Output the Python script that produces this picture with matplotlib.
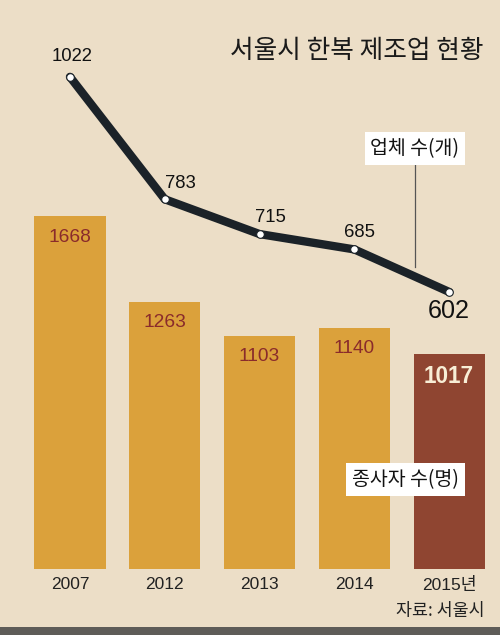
import matplotlib
matplotlib.use("Agg")
import matplotlib.pyplot as plt
from matplotlib.patches import Rectangle
from matplotlib import font_manager

plt.rcParams['font.family'] = ['Noto Sans CJK KR', 'DejaVu Sans']

# ---- data ----
years = ['2007', '2012', '2013', '2014', '2015년']
workers = [1668, 1263, 1103, 1140, 1017]      # 종사자 수(명)
companies = [1022, 783, 715, 685, 602]        # 업체 수(개)
title = '서울시 한복 제조업 현황'
source = '자료: 서울시'
line_label = '업체 수(개)'
bar_label = '종사자 수(명)'

# ---- style ----
W, H = 500, 635
bg = '#ECDEC7'
bar_color = '#DBA13B'
last_bar_color = '#8F4531'
line_color = '#1B2228'
val_color = '#8A2B2B'

installed = {f.name for f in font_manager.fontManager.ttflist}
num_family = [f for f in ['Liberation Sans Narrow', 'Liberation Sans'] if f in installed] + ['Noto Sans CJK KR', 'DejaVu Sans']
narrow = 'Liberation Sans Narrow' in installed
k = 1.0 if narrow else 0.86

fig = plt.figure(figsize=(W / 100, H / 100), dpi=100)
fig.patch.set_facecolor(bg)

def fx(px):
    return px / W

def fy(py):
    return 1 - py / H

ax_bottom, ax_top = 569, 20
ax = fig.add_axes([0, fy(ax_bottom), 1, (ax_bottom - ax_top) / H])
ax.set_facecolor('none')
x = list(range(len(years)))
ax.set_xlim(-0.738, 4.536)
ax.set_ylim(0, 2596)
colors = [bar_color] * (len(years) - 1) + [last_bar_color]
bars = ax.bar(x, workers, width=0.75, color=colors, zorder=2)
for i, (b, v) in enumerate(zip(bars, workers)):
    last = i == len(workers) - 1
    ax.annotate(str(v), (b.get_x() + b.get_width() / 2, v), xytext=(0, -23 if last else -21),
                textcoords='offset pixels', ha='center', va='center', family=num_family,
                fontsize=(19 if last else 16) * k, fontweight='bold' if last else 'normal',
                color='#F8EED6' if last else val_color, zorder=3)
ax.set_xticks(x)
ax.set_xticklabels(years, fontsize=14.5 * k, color='#222222', family=num_family)
ax.tick_params(axis='x', length=0, pad=6)
ax.set_yticks([])
for s in ax.spines.values():
    s.set_visible(False)

ax2 = ax.twinx()
ax2.set_ylim(61, 1133)
ax2.set_yticks([])
for s in ax2.spines.values():
    s.set_visible(False)
ax2.plot(x, companies, color=line_color, lw=6, solid_joinstyle='round', solid_capstyle='round', zorder=4)
ax2.plot(x, companies, 'o', ms=5.5, mfc='white', mec=line_color, mew=0.8, zorder=5)
offsets = [(2, 20), (16, 16), (11, 17), (5, 17), (0, -19)]
for i, (v, off) in enumerate(zip(companies, offsets)):
    last = i == len(companies) - 1
    ax2.annotate(str(v), (x[i], v), xytext=off, textcoords='offset pixels', family=num_family,
                 ha='center', va='center', fontsize=(21 if last else 15.5) * k, color='#111111', zorder=6)

# title and source
fig.text(fx(484), fy(51), title, ha='right', va='center', fontsize=18.5, fontweight='medium', color='#1a1a1a')
fig.text(fx(485), fy(611), source, ha='right', va='center', fontsize=12.5, color='#222222')

# label boxes
fig.add_artist(Rectangle((fx(365), fy(165)), fx(100), 33 / H, transform=fig.transFigure,
                         facecolor='white', edgecolor='none', zorder=7))
fig.text(fx(415), fy(148.5), line_label, ha='center', va='center', fontsize=14, color='#111111', zorder=8)
fig.add_artist(plt.Line2D([fx(415), fx(415)], [fy(165), fy(267)], transform=fig.transFigure,
                          color='#555555', lw=0.9, zorder=3))
fig.add_artist(Rectangle((fx(346), fy(496)), fx(119), 33 / H, transform=fig.transFigure,
                         facecolor='white', edgecolor='none', zorder=7))
fig.text(fx(405.5), fy(479.5), bar_label, ha='center', va='center', fontsize=14, color='#111111', zorder=8)

# bottom strip
fig.add_artist(Rectangle((0, 0), 1, 8 / H, transform=fig.transFigure,
                         facecolor='#5E5C58', edgecolor='none', zorder=1))

fig.savefig('out.png', dpi=100, facecolor=bg)
